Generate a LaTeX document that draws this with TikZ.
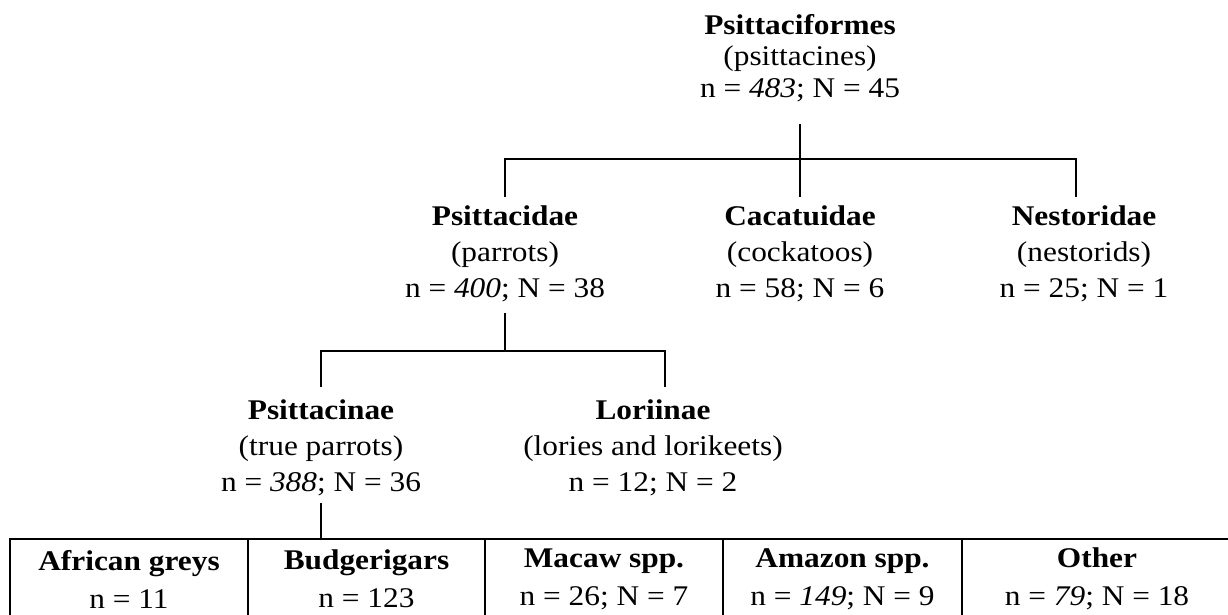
\documentclass[tikz,border=0pt]{standalone}
\usepackage{fontspec}
\setmainfont{Liberation Serif}[FakeStretch=1.1]
\usetikzlibrary{positioning}
\tikzset{
    taxon/.style={
           align=center,
           inner sep=0pt,
           font=\fontsize{28.5pt}{36pt}\selectfont,
           },
    group/.style={
           draw=black, line width=2.2pt,
           align=center,
           inner sep=0pt,
           minimum height=80pt,
           font=\fontsize{28.5pt}{38pt}\selectfont,
           },
    link/.style={draw=black, line width=2.2pt},
}

\begin{document}
\begin{tikzpicture}[x=1pt,y=1pt]
  \useasboundingbox (0,0) rectangle (1228,615);
  \clip (0,0) rectangle (1228,615);

  \node[taxon, font=\fontsize{28.5pt}{31.5pt}\selectfont] (Psittaciformes) at (800,557) {\textbf{Psittaciformes}\\(psittacines)\\n = \textit{483}; N = 45};

  \node[taxon] (Psittacidae)    at (505,361)  {\textbf{Psittacidae}\\(parrots)\\n = \textit{400}; N = 38};
  \node[taxon] (Cacatuidae)     at (800,361)  {\textbf{Cacatuidae}\\(cockatoos)\\n = 58; N = 6};
  \node[taxon] (Nestoridae)     at (1084,361) {\textbf{Nestoridae}\\(nestorids)\\n = 25; N = 1};

  \node[taxon] (Psittacinae)    at (321,167)  {\textbf{Psittacinae}\\(true parrots)\\n = \textit{388}; N = 36};
  \node[taxon] (Loriinae)       at (653,167)  {\textbf{Loriinae}\\(lories and lorikeets)\\n = 12; N = 2};

  \node[group, minimum width=238pt] (AfricanGreys) at (129,36)   {\textbf{African greys}\\n = 11};
  \node[group, minimum width=237pt] (Budgerigars)  at (366.5,36) {\textbf{Budgerigars}\\n = 123};
  \node[group, minimum width=238pt] (Macaws)       at (604,36)   {\textbf{Macaw spp.}\\n = 26; N = 7};
  \node[group, minimum width=239pt] (Amazons)      at (842.5,36) {\textbf{Amazon spp.}\\n = \textit{149}; N = 9};
  \node[group, minimum width=270pt] (Other)        at (1097,36)  {\textbf{Other}\\n = \textit{79}; N = 18};

% order -> families
  \coordinate (FamBar) at (800,456);
  \draw[link, shorten <=22pt, shorten >=9pt] (Psittaciformes.south) -- (Cacatuidae.north);
  \draw[link, shorten <=9pt, shorten >=9pt] (Psittacidae.north) |- (FamBar) -| ([xshift=-8pt]Nestoridae.north);

% parrots -> subfamilies
  \coordinate (SubBar) at (505,264);
  \draw[link, shorten <=11pt] (Psittacidae.south) -- (SubBar);
  \draw[link, shorten <=13pt, shorten >=13pt] (Psittacinae.north) |- (SubBar) -| ([xshift=12pt]Loriinae.north);

% true parrots -> groups
  \draw[link, shorten <=7pt] (Psittacinae.south) -- (Psittacinae.south |- Budgerigars.north);

\end{tikzpicture}
\end{document}
